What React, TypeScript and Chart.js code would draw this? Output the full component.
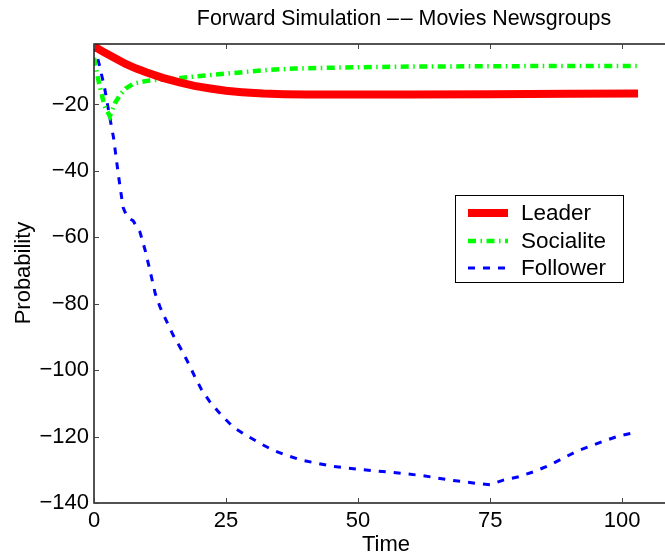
import React, { useEffect, useRef } from "react";
import { Chart, registerables } from "chart.js";

Chart.register(...registerables);

const TITLE = "Forward Simulation \u2013\u200a\u2013 Movies Newsgroups";
const X_LABEL = "Time";
const Y_LABEL = "Probability";
const X_TICKS = [0, 25, 50, 75, 100];
const Y_TICKS = [-140, -120, -100, -80, -60, -40, -20];
const X_MIN = 0;
const X_MAX = 108.1;
const Y_MIN = -140;
const Y_MAX = -1.8;

const SERIES_NAMES = ["Leader", "Socialite", "Follower"];

const leaderX = [0, 2, 4, 6, 8, 10, 13, 16, 19, 22, 25, 28, 32, 36, 40, 50, 60, 75, 90, 103];
const leaderY = [-2.5, -4.4, -6.1, -7.8, -9.2, -10.4, -12.0, -13.3, -14.4, -15.2, -15.9, -16.3, -16.7, -16.9, -17.0, -17.0, -17.0, -16.9, -16.8, -16.7];

const socialiteX = [0, 1, 2, 3, 4, 5, 6, 7.5, 10, 12, 15, 19, 23, 26, 30, 33, 38, 43, 50, 60, 75, 90, 103];
const socialiteY = [-6, -14, -20.5, -23.5, -19.5, -17, -15.2, -13.7, -12.9, -12.6, -12.3, -11.6, -11, -10.6, -10, -9.6, -9.2, -9.0, -8.8, -8.6, -8.5, -8.4, -8.4];

const followerX = [0, 1, 2, 3, 3.7, 4.6, 5.5, 6.3, 7.4, 8.7, 9.7, 10.6, 11.6, 12.5, 13.8, 15, 16.6, 17.9, 19.1, 20.4, 22, 24.2, 26.4, 28.9, 31.4, 34, 36.5, 39.6, 45.3, 51, 56.7, 62.4, 67.4, 72.5, 75, 77.5, 80.4, 83.2, 85.7, 88.6, 91.4, 93.9, 96.8, 99.6, 102.1, 103];
const followerY = [-2, -8, -15, -24, -30, -41, -51, -54, -55, -58.4, -64, -70, -77, -81, -85.5, -89.5, -94, -98, -102, -106, -109.7, -113.7, -117.2, -119.7, -122, -124.2, -125.7, -127.2, -129, -130, -130.8, -131.8, -133.1, -134.1, -134.5, -133.1, -132.1, -130.6, -129, -126.7, -124.4, -122.9, -121.2, -119.7, -118.9, -119];

const FONT = "'Liberation Sans', Arial, Helvetica, sans-serif";

const toPoints = (xs: number[], ys: number[]) => xs.map((x, i) => ({ x, y: ys[i] }));
const fmt = (v: number) => String(v).replace("-", "\u2212");

const framePlugin = {
  id: "frame",
  afterDatasetsDraw(chart: any) {
    const { ctx, chartArea } = chart;
    const xs = chart.scales.x;
    const ys = chart.scales.y;
    const { left, right, top, bottom } = chartArea;
    ctx.save();
    ctx.strokeStyle = "#1a1a1a";
    ctx.lineWidth = 1.5;
    ctx.beginPath();
    ctx.moveTo(right + 2, top);
    ctx.lineTo(left, top);
    ctx.lineTo(left, bottom);
    ctx.lineTo(right + 2, bottom);
    ctx.stroke();
    ctx.strokeStyle = "#444";
    ctx.lineWidth = 1;
    ctx.beginPath();
    X_TICKS.forEach((v) => {
      const p = Math.round(xs.getPixelForValue(v)) + 0.5;
      ctx.moveTo(p, bottom);
      ctx.lineTo(p, bottom - 5);
      ctx.moveTo(p, top);
      ctx.lineTo(p, top + 5);
    });
    Y_TICKS.forEach((v) => {
      const p = Math.round(ys.getPixelForValue(v)) + 0.5;
      ctx.moveTo(left, p);
      ctx.lineTo(left + 5, p);
    });
    ctx.stroke();
    ctx.restore();
  },
  afterDraw(chart: any) {
    const { ctx } = chart;
    ctx.save();
    ctx.fillStyle = "#000";
    ctx.textAlign = "center";
    ctx.textBaseline = "middle";
    ctx.font = `21.4px ${FONT}`;
    ctx.fillText(TITLE, 404, 19);
    ctx.font = `22px ${FONT}`;
    ctx.fillText(X_LABEL, 386, 545);
    ctx.translate(24, 273);
    ctx.rotate(-Math.PI / 2);
    ctx.fillText(Y_LABEL, 0, 0);
    ctx.restore();

    // legend
    const bx = 455, by = 195, bw = 168, bh = 87;
    ctx.save();
    ctx.fillStyle = "#fff";
    ctx.fillRect(bx, by, bw, bh);
    ctx.strokeStyle = "#000";
    ctx.lineWidth = 1;
    ctx.strokeRect(bx + 0.5, by + 0.5, bw, bh);
    const rows = [213, 241, 268];
    chart.data.datasets.forEach((ds: any, i: number) => {
      const y = rows[i];
      ctx.strokeStyle = ds.borderColor;
      ctx.lineWidth = ds.borderWidth;
      ctx.setLineDash(ds.borderDash || []);
      ctx.beginPath();
      ctx.moveTo(468, y);
      ctx.lineTo(508, y);
      ctx.stroke();
      ctx.setLineDash([]);
      ctx.fillStyle = "#000";
      ctx.font = `22.5px ${FONT}`;
      ctx.textAlign = "left";
      ctx.textBaseline = "middle";
      ctx.fillText(ds.label, 521, y + 1);
    });
    ctx.restore();
  },
};

export default function App() {
  const ref = useRef<HTMLCanvasElement | null>(null);
  useEffect(() => {
    if (!ref.current) return;
    const chart = new Chart(ref.current, {
      type: "line",
      data: {
        datasets: [
          {
            label: SERIES_NAMES[0],
            data: toPoints(leaderX, leaderY),
            borderColor: "#ff0000",
            borderWidth: 8,
            pointRadius: 0,
            tension: 0,
          },
          {
            label: SERIES_NAMES[1],
            data: toPoints(socialiteX, socialiteY),
            borderColor: "#00ff00",
            borderWidth: 4.5,
            borderDash: [8, 4.5, 1.5, 4.5],
            pointRadius: 0,
            tension: 0,
          },
          {
            label: SERIES_NAMES[2],
            data: toPoints(followerX, followerY),
            borderColor: "#0000ff",
            borderWidth: 3,
            borderDash: [7, 8],
            pointRadius: 0,
            tension: 0,
          },
        ],
      },
      options: {
        responsive: false,
        animation: false,
        layout: { padding: { top: 44, right: 0, bottom: 0, left: 0 } },
        plugins: { legend: { display: false }, title: { display: false }, tooltip: { enabled: false } },
        scales: {
          x: {
            type: "linear",
            min: X_MIN,
            max: X_MAX,
            grid: { display: false, drawTicks: false },
            border: { display: false },
            afterBuildTicks: (s: any) => {
              s.ticks = X_TICKS.map((v) => ({ value: v }));
            },
            afterFit: (s: any) => {
              s.height = 55;
            },
            ticks: {
              color: "#000",
              font: { family: FONT, size: 22 },
              padding: 5,
              maxRotation: 0,
              callback: (v: any) => fmt(Number(v)),
            },
          },
          y: {
            type: "linear",
            min: Y_MIN,
            max: Y_MAX,
            grid: { display: false, drawTicks: false },
            border: { display: false },
            afterBuildTicks: (s: any) => {
              s.ticks = Y_TICKS.map((v) => ({ value: v }));
            },
            afterFit: (s: any) => {
              s.width = 94;
            },
            ticks: {
              color: "#000",
              font: { family: FONT, size: 22 },
              padding: 5,
              callback: (v: any) => fmt(Number(v)),
            },
          },
        },
      },
      plugins: [framePlugin],
    });
    return () => chart.destroy();
  }, []);
  return (
    <div style={{ position: "absolute", left: 0, top: 0, width: 665, height: 558, overflow: "hidden", background: "#fff" }}>
      <canvas ref={ref} width={665} height={558} style={{ width: 665, height: 558, display: "block" }} />
    </div>
  );
}
